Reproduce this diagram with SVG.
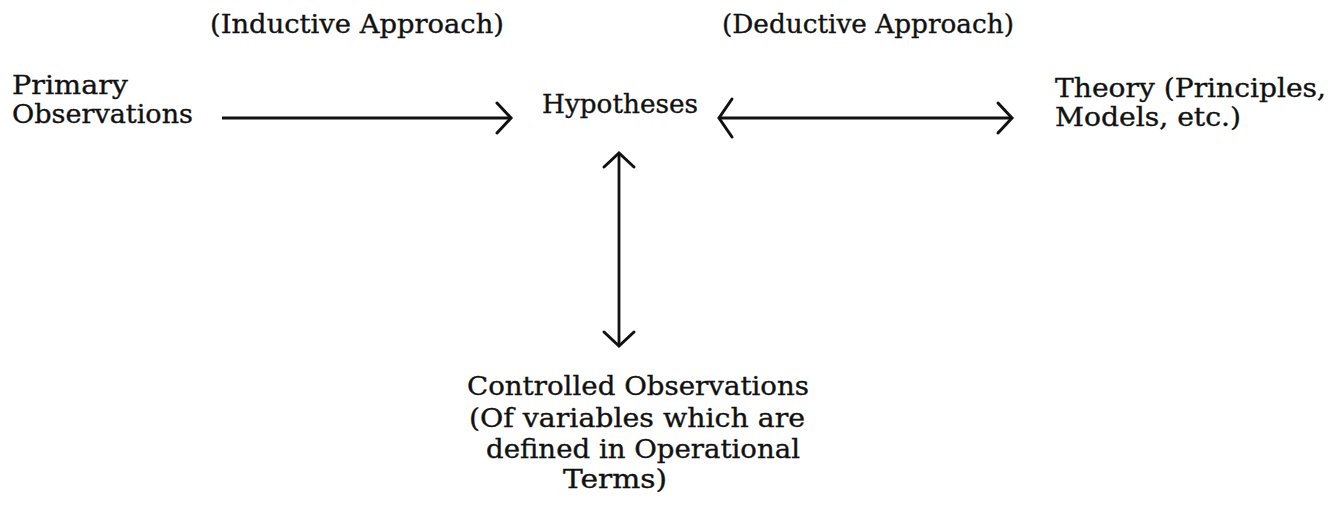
<svg xmlns="http://www.w3.org/2000/svg" width="1342" height="511" viewBox="0 0 1342 511">
<style>
text{font-family:"DejaVu Serif","Liberation Serif",serif;font-size:26px;fill:#111;stroke:#111;stroke-width:0.35}
.ln{stroke:#111;stroke-width:2.8;fill:none}
</style>
<defs>
<marker id="ah" markerUnits="userSpaceOnUse" markerWidth="34" markerHeight="40" viewBox="-17 -20 34 40" refX="0" refY="0" orient="auto-start-reverse">
<path d="M-14 -15 L0 0 L-14 15" stroke="#111" stroke-width="3" fill="none" stroke-linecap="round"/>
</marker>
<marker id="ahL" markerUnits="userSpaceOnUse" markerWidth="34" markerHeight="46" viewBox="-17 -23 34 46" refX="0" refY="0" orient="auto-start-reverse">
<path d="M-13 -19 L0 0 L-13 19" stroke="#111" stroke-width="3" fill="none" stroke-linecap="round"/>
</marker>
</defs>
<rect width="1342" height="511" fill="#fff"/>
<g id="label-inductive"><text x="210" y="33" textLength="294" lengthAdjust="spacingAndGlyphs">(Inductive Approach)</text></g>
<g id="label-deductive"><text x="722" y="33" textLength="292" lengthAdjust="spacingAndGlyphs">(Deductive Approach)</text></g>
<g id="node-primary"><text x="12" y="94" textLength="116" lengthAdjust="spacingAndGlyphs">Primary</text><text x="12" y="123" textLength="181" lengthAdjust="spacingAndGlyphs">Observations</text></g>
<g id="node-hypotheses"><text x="542" y="113" textLength="156" lengthAdjust="spacingAndGlyphs">Hypotheses</text></g>
<g id="node-theory"><text x="1055" y="97" textLength="271" lengthAdjust="spacingAndGlyphs">Theory (Principles,</text><text x="1055" y="126" textLength="186" lengthAdjust="spacingAndGlyphs">Models, etc.)</text></g>
<g id="node-controlled">
<text x="467" y="395" textLength="342" lengthAdjust="spacingAndGlyphs">Controlled Observations</text>
<text x="469" y="427" textLength="336" lengthAdjust="spacingAndGlyphs">(Of variables which are</text>
<text x="486" y="458" textLength="314" lengthAdjust="spacingAndGlyphs">defined in Operational</text>
<text x="563" y="488" textLength="104" lengthAdjust="spacingAndGlyphs">Terms)</text>
</g>
<g id="connectors">
<line class="ln" x1="222" y1="118" x2="511" y2="118" marker-end="url(#ah)"/>
<line class="ln" x1="719" y1="118" x2="1012" y2="118" marker-start="url(#ahL)" marker-end="url(#ah)"/>
<line class="ln" x1="619" y1="153" x2="619" y2="346" marker-start="url(#ah)" marker-end="url(#ah)"/>
</g>
</svg>
